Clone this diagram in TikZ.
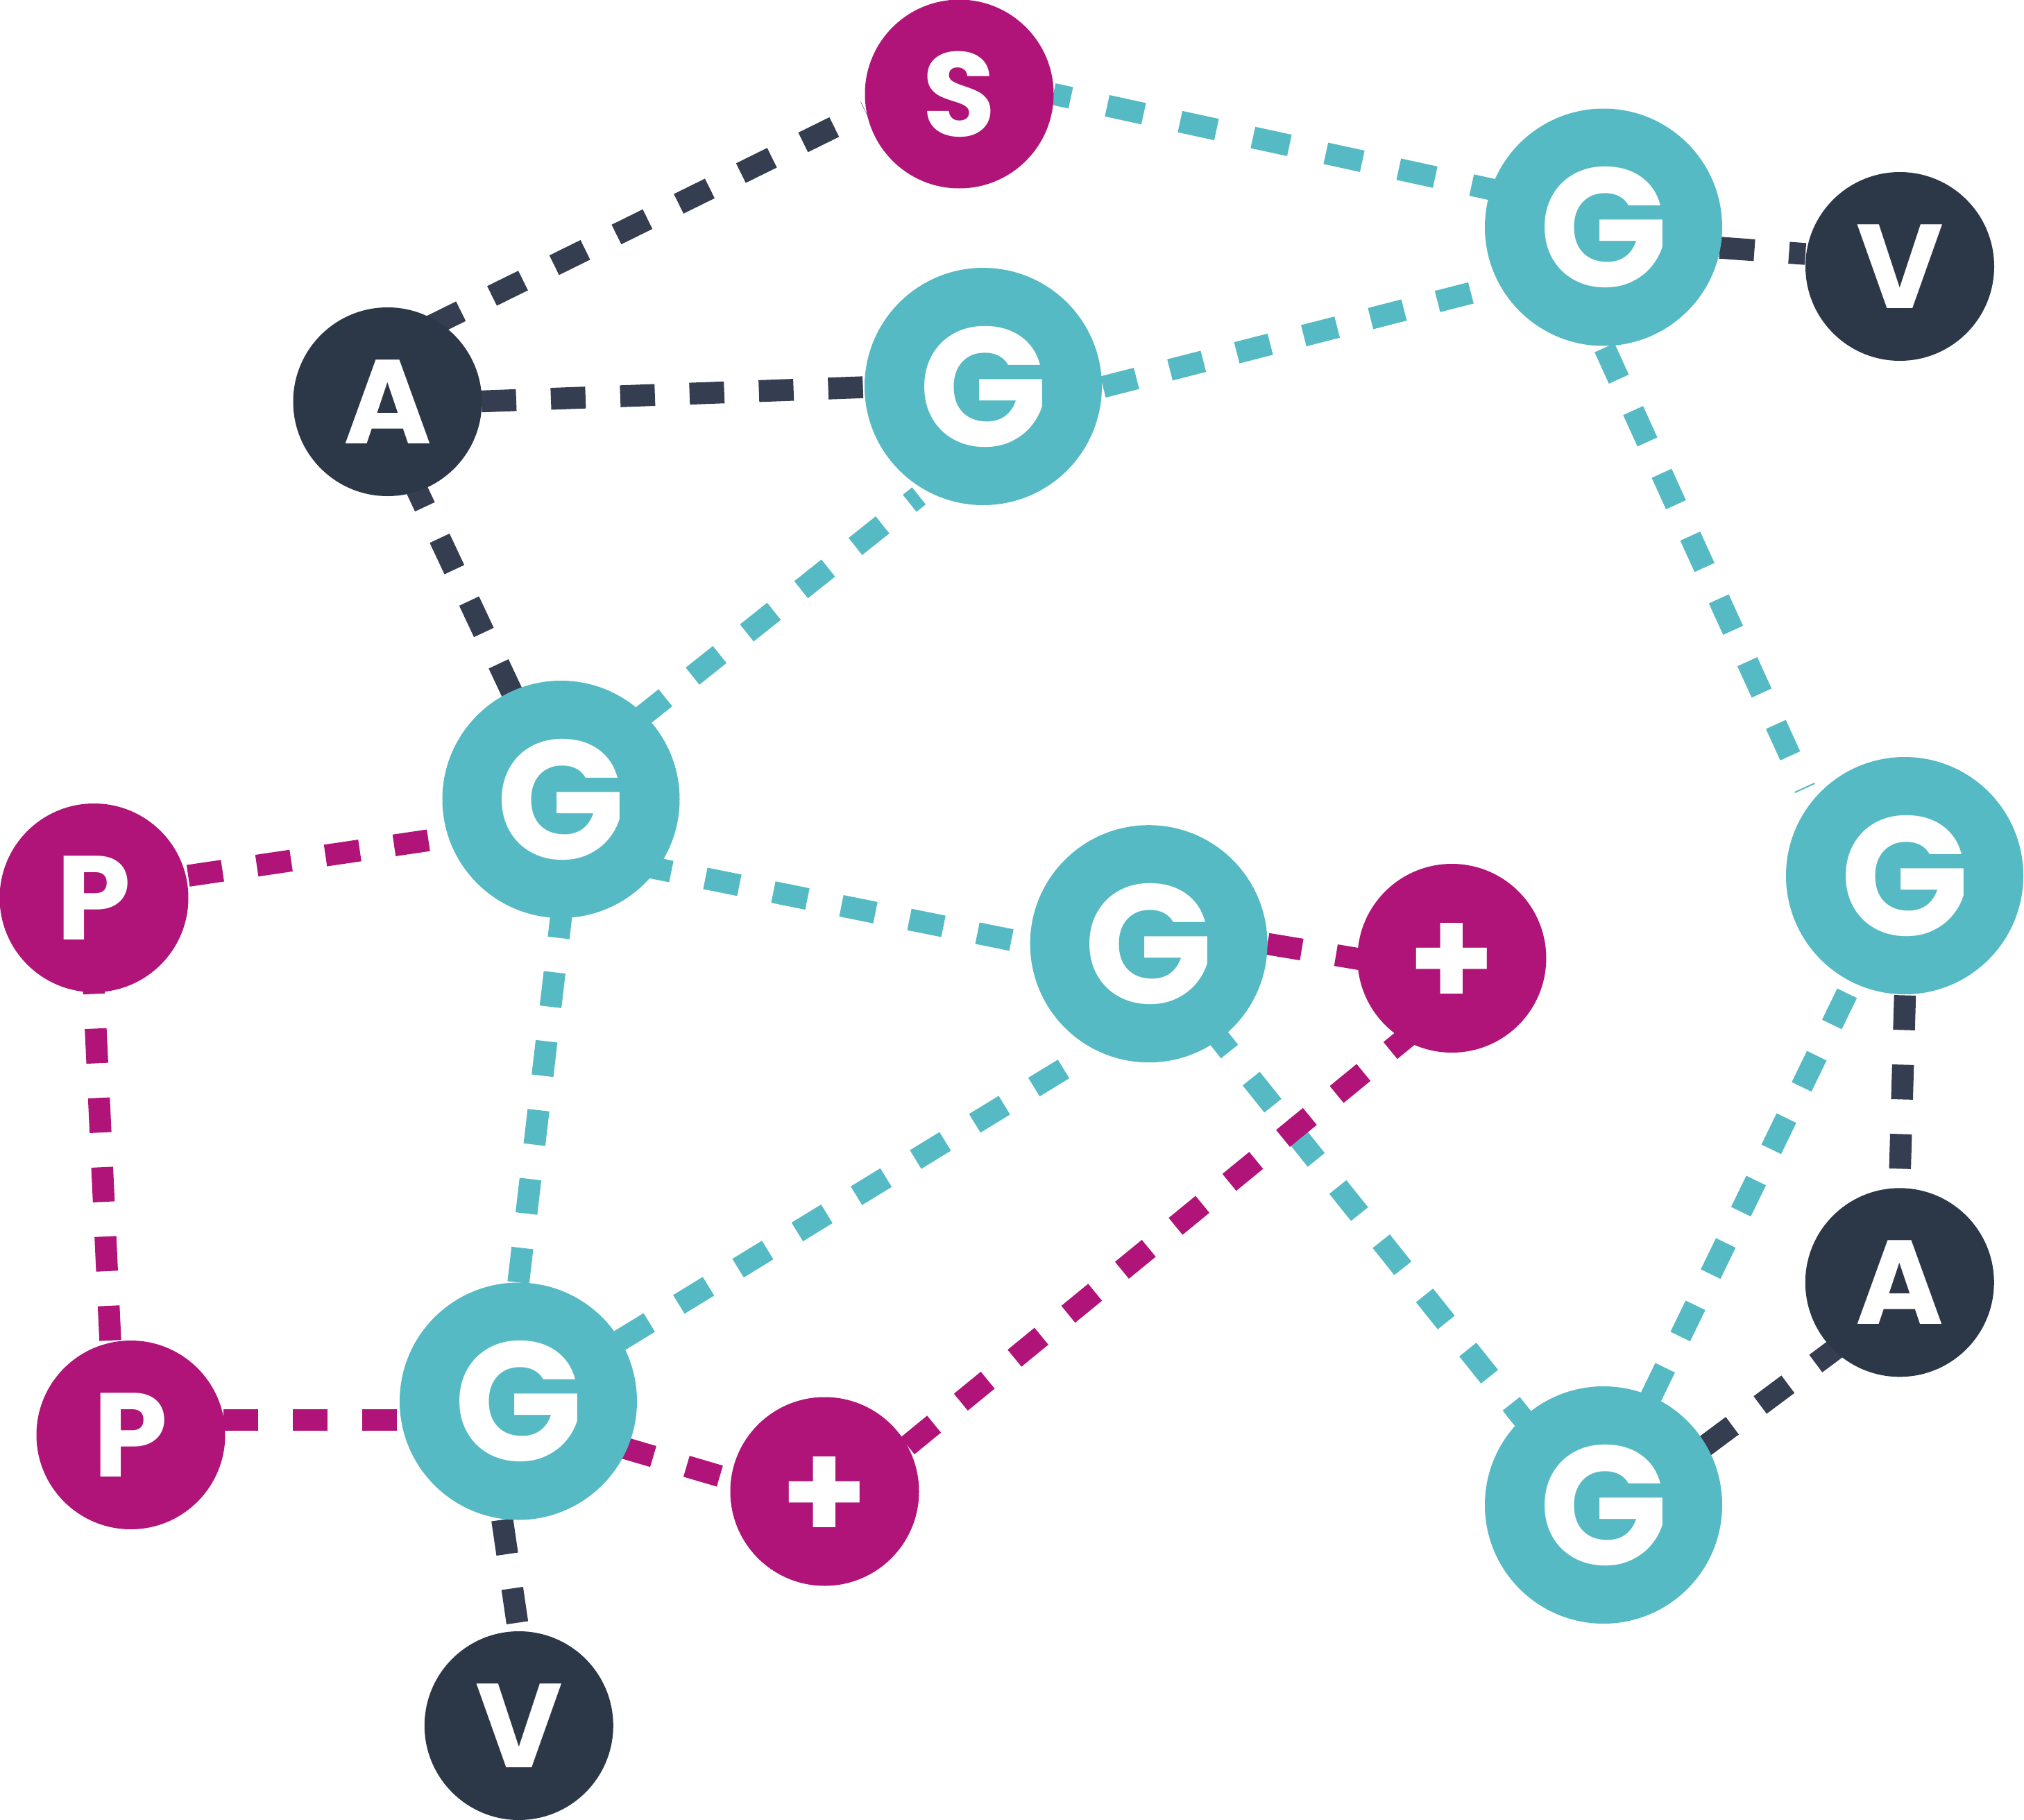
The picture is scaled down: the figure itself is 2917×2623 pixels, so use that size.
\documentclass[tikz,border=0pt]{standalone}
\usepackage{fontspec}
\newfontfamily\nodefont{Poppins}
\usetikzlibrary{calc}
\pgfdeclarelayer{bg}
\pgfsetlayers{bg,main}
\definecolor{cteal}{RGB}{86,186,196}
\definecolor{cmag}{RGB}{176,20,120}
\definecolor{cdark}{RGB}{44,56,72}
\definecolor{cdarkline}{RGB}{52,62,80}
\newcommand{\plussign}{\raisebox{-2.6pt}[\height][\depth]{+}}
\tikzset{
  smallnode/.style={circle,inner sep=0pt,outer sep=0pt,minimum size=68pt,text=white,
    font=\nodefont\bfseries\fontsize{43pt}{43pt}\selectfont},
  plusnode/.style={smallnode,fill=cmag,font=\nodefont\bfseries\fontsize{50pt}{50pt}\selectfont},
  bignode/.style={circle,inner sep=0pt,outer sep=0pt,minimum size=85.5pt,fill=cteal,text=white,
    font=\nodefont\bfseries\fontsize{61pt}{61pt}\selectfont},
  edge/.style={line width=7.875pt,dash pattern=on 12.5pt off 12.5pt}
}
\begin{document}
\begin{tikzpicture}[x=0.25pt,y=-0.25pt]
\useasboundingbox (0,0) rectangle (2917,2623);
% nodes
\node[smallnode,fill=cmag]  (S)   at (1382.5,135.5) {S};
\node[smallnode,fill=cdark] (A1)  at (558.5,579) {A};
\node[bignode]              (G1)  at (1417,557) {G};
\node[bignode]              (G2)  at (2311,327.5) {G};
\node[smallnode,fill=cdark] (V1)  at (2738,384) {V};
\node[bignode]              (G3)  at (808.5,1152) {G};
\node[smallnode,fill=cmag]  (P1)  at (135.5,1294) {P};
\node[bignode]              (G4)  at (1655.6,1360.2) {G};
\node[plusnode]             (PL1) at (2092.4,1381) {\plussign};
\node[bignode]              (G5)  at (2745,1262) {G};
\node[smallnode,fill=cdark] (A2)  at (2737.8,1848.3) {A};
\node[smallnode,fill=cmag]  (P2)  at (188.5,2068) {P};
\node[bignode]              (G6)  at (747,2019.5) {G};
\node[plusnode]             (PL2) at (1188.5,2149.5) {\plussign};
\node[bignode]              (G7)  at (2311,2169) {G};
\node[smallnode,fill=cdark] (V2)  at (747.8,2487) {V};
% edges
\begin{pgfonlayer}{bg}
\draw[edge,cdarkline] ($(A1)+(60.9,-108.3)$) -- ($(S)+(-135,25.3)$);
\draw[edge,cdarkline] ($(A1)+(135.5,-0.5)$) -- ($(G1)+(-171,1)$);
\draw[edge,cteal,dash pattern=on 13.4375pt off 13.4375pt,dash phase=7pt] ($(S)+(135.5,0)$) -- ($(G2)+(-136,-49)$);
\draw[edge,cteal,dash pattern=on 12.4375pt off 12.4375pt] ($(G1)+(172.7,0.7)$) -- ($(G2)+(-136,80.6)$);
\draw[edge,cdarkline] ($(G2)+(167.6,29.5)$) -- ($(V1)+(-136,-18)$);
\draw[edge,cteal,dash pattern=on 12.425pt off 12.425pt] ($(G2)+(1.5,173.7)$) -- ($(G5)+(-143.6,-125.6)$);
\draw[edge,cdarkline] ($(A1)+(32.6,106.2)$) -- ($(G3)+(-68.6,-149.8)$);
\draw[edge,cteal,dash phase=8.25pt] ($(G1)+(-92.7,157.7)$) -- ($(G3)+(93.5,-101)$);
\draw[edge,cmag] ($(P1)+(135.7,-31.8)$) -- ($(G3)+(-161.5,54.7)$);
\draw[edge,cteal] ($(G3)+(2.4,150)$) -- ($(G6)+(-1.3,-159.5)$);
\draw[edge,cteal] ($(G3)+(110,94.2)$) -- ($(G4)+(-171,0)$);
\draw[edge,cmag] ($(G4)+(171.1,0.1)$) -- ($(PL1)+(-110.4,5)$);
\draw[edge,cteal] ($(G4)+(-122.8,180.4)$) -- ($(G6)+(146.2,-87.5)$);
\draw[edge,cteal] ($(G4)+(85.2,116.2)$) -- ($(G7)+(-102,-107)$);
\draw[edge,cmag] ($(PL1)+(-49.9,101.3)$) -- ($(PL2)+(119.5,-65.8)$);
\draw[edge,cdarkline] ($(G5)+(0.5,172.5)$) -- ($(A2)+(-0.3,-135.8)$);
\draw[edge,cteal] ($(G5)+(-83,169.5)$) -- ($(G7)+(67.8,-154.6)$);
\draw[edge,cmag] ($(P1)+(-2.3,88.5)$) -- ($(P2)+(-28.7,-118)$);
\draw[edge,cmag] ($(P2)+(133.8,-21.5)$) -- ($(G6)+(-169,27)$);
\draw[edge,cdarkline] ($(G6)+(-23.2,170.8)$) -- ($(V2)+(-0.6,-137)$);
\draw[edge,cmag] ($(G6)+(146.5,65.5)$) -- ($(PL2)+(-137,-18)$);
\draw[edge,cdarkline] ($(A2)+(-80.8,87)$) -- ($(G7)+(145.6,-84.5)$);
\end{pgfonlayer}
\end{tikzpicture}
\end{document}
